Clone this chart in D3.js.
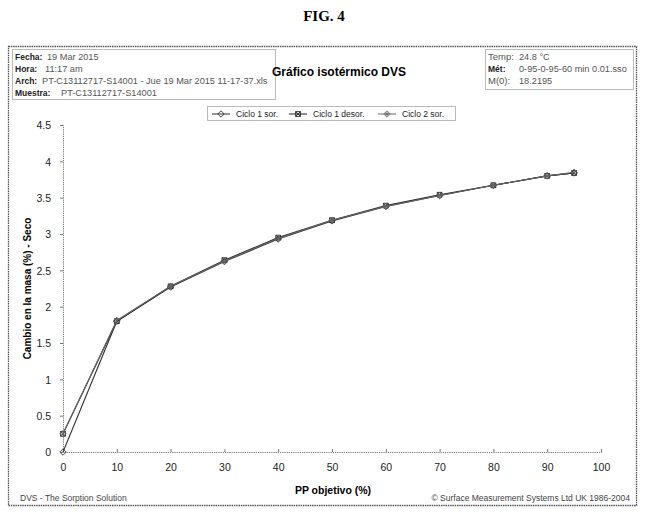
<!doctype html>
<html>
<head>
<meta charset="utf-8">
<script src="https://cdn.jsdelivr.net/npm/d3@7"></script>
<style>
  body { margin: 0; background: #fff; }
  svg { display: block; font-family: Arial, "Liberation Sans", sans-serif; }
</style>
</head>
<body>
<svg id="chart" width="645" height="516"></svg>
<script>
// target RH steps (%)
const ppSor = [0, 10, 20, 30, 40, 50, 60, 70, 80, 90, 95];
const ppDesor = [95, 90, 80, 70, 60, 50, 40, 30, 20, 10, 0];

// mass change (%) - dry
const ciclo1Sor = [0, 1.80, 2.27, 2.62, 2.93, 3.18, 3.38, 3.53, 3.67, 3.80, 3.84];
const ciclo1Desor = [3.84, 3.80, 3.67, 3.54, 3.39, 3.19, 2.95, 2.64, 2.28, 1.80, 0.25];
const ciclo2Sor = [0.25, 1.81, 2.28, 2.63, 2.94, 3.19, 3.38, 3.53, 3.67, 3.80, 3.85];

const xTicks = [0, 10, 20, 30, 40, 50, 60, 70, 80, 90, 100];
const yTicks = [0, 0.5, 1, 1.5, 2, 2.5, 3, 3.5, 4, 4.5];

const seriesNames = ["Ciclo 1 sor.", "Ciclo 1 desor.", "Ciclo 2 sor."];

// header boxes: [label, value, label is bold]
const infoLeft = [
  ["Fecha:", "19 Mar 2015", true],
  ["Hora:", "11:17 am", true],
  ["Arch:", "PT-C13112717-S14001 - Jue 19 Mar 2015 11-17-37.xls", true],
  ["Muestra:", "PT-C13112717-S14001", true]
];
const infoRight = [
  ["Temp:", "24.8 °C", false],
  ["Mét:", "0-95-0-95-60 min 0.01.sso", true],
  ["M(0):", "18.2195", false]
];

const svg = d3.select("#chart");

const x = d3.scaleLinear().domain([0, 100]).range([63, 601]);
const y = d3.scaleLinear().domain([0, 4.5]).range([452, 125]);

// figure caption
svg.append("text")
    .attr("x", 324).attr("y", 21)
    .attr("text-anchor", "middle")
    .style("font-family", "'Liberation Serif', 'DejaVu Serif', serif")
    .style("font-weight", "bold").style("font-size", "15px")
    .text("FIG. 4");

// outer frame
svg.append("rect")
    .attr("x", 8.5).attr("y", 46.5).attr("width", 628).attr("height", 459)
    .attr("fill", "none").attr("stroke", "#555").attr("stroke-width", 1.3)
    .attr("stroke-dasharray", "1.5,0.8");

function infoBox(rows, bx, by, bw, bh, labelW) {
  const g = svg.append("g");
  g.append("rect")
      .attr("x", bx + 0.5).attr("y", by + 0.5).attr("width", bw).attr("height", bh)
      .attr("fill", "#fff").attr("stroke", "#777").attr("stroke-dasharray", "1,1");
  rows.forEach(([k, v, bold], i) => {
    const ty = by + 11 + i * 12;
    g.append("text").attr("x", bx + 3).attr("y", ty)
        .style("font-size", bold ? "8.5px" : "9.5px")
        .style("font-weight", bold ? "bold" : "normal")
        .attr("fill", bold ? "#222" : "#555")
        .text(k);
    g.append("text").attr("x", bx + 3 + labelW[i]).attr("y", ty)
        .style("font-size", "9.2px").attr("fill", "#555")
        .text(v);
  });
}
infoBox(infoLeft, 12, 49, 263, 50, [32, 30, 27, 46]);
infoBox(infoRight, 485, 49, 148, 40, [31, 31, 31]);

// title
svg.append("text")
    .attr("x", 339).attr("y", 76)
    .attr("text-anchor", "middle")
    .style("font-weight", "bold").style("font-size", "12px")
    .text("Gráfico isotérmico DVS");

// axes
const axisColor = "#777";
const xAxis = svg.append("g").attr("transform", `translate(0,${y(0)})`)
    .call(d3.axisBottom(x).tickValues(xTicks).tickSize(-3).tickPadding(12));
const yAxis = svg.append("g").attr("transform", `translate(${x(0)},0)`)
    .call(d3.axisLeft(y).tickValues(yTicks).tickSize(3).tickPadding(9).tickFormat(d3.format("")));
[xAxis, yAxis].forEach(a => {
  a.select(".domain").attr("stroke", axisColor).attr("stroke-dasharray", "1.2,1");
  a.selectAll(".tick line").attr("stroke", axisColor);
  a.selectAll(".tick text").attr("fill", "#222").style("font-size", "10.5px")
      .style("font-family", "Arial, 'Liberation Sans', sans-serif");
});
yAxis.selectAll(".tick text").attr("dy", "0.35em");

// axis titles
svg.append("text")
    .attr("transform", `translate(31,${(y(0) + y(4.5)) / 2}) rotate(-90)`)
    .attr("text-anchor", "middle")
    .style("font-weight", "bold").style("font-size", "10px")
    .text("Cambio en la masa (%) - Seco");
svg.append("text")
    .attr("x", 333).attr("y", 494)
    .attr("text-anchor", "middle")
    .style("font-weight", "bold").style("font-size", "10.5px")
    .text("PP objetivo (%)");

// footer
svg.append("text").attr("x", 20).attr("y", 501)
    .style("font-size", "8.5px").attr("fill", "#444")
    .text("DVS - The Sorption Solution");
svg.append("text").attr("x", 630).attr("y", 501).attr("text-anchor", "end")
    .style("font-size", "8.5px").attr("fill", "#444")
    .text("© Surface Measurement Systems Ltd UK 1986-2004");

// series
const series = [
  {name: seriesNames[0], xs: ppSor, ys: ciclo1Sor, color: "#333", kind: "diamond"},
  {name: seriesNames[1], xs: ppDesor, ys: ciclo1Desor, color: "#222", kind: "xsquare"},
  {name: seriesNames[2], xs: ppSor, ys: ciclo2Sor, color: "#666", kind: "star"}
];

const line = d3.line().x(d => x(d[0])).y(d => y(d[1]));

function marker(g, s, px, py) {
  const m = g.append("g").attr("transform", `translate(${px},${py})`)
      .attr("fill", "none").attr("stroke", s.color).attr("stroke-width", 0.9);
  if (s.kind === "diamond") {
    m.append("path").attr("d", "M0,-3.2L3.2,0L0,3.2L-3.2,0Z");
  } else if (s.kind === "xsquare") {
    m.append("path").attr("d", "M-2.4,-2.4H2.4V2.4H-2.4ZM-2.4,-2.4L2.4,2.4M-2.4,2.4L2.4,-2.4");
  } else {
    m.append("path").attr("d", "M0,-3.2L3.2,0L0,3.2L-3.2,0Z");
    m.append("path").attr("d", d3.symbol(d3.symbolAsterisk, 10)());
  }
}

series.forEach(s => {
  const pts = s.xs.map((v, i) => [v, s.ys[i]]);
  const g = svg.append("g");
  g.append("path").datum(pts)
      .attr("d", line)
      .attr("fill", "none").attr("stroke", s.color).attr("stroke-width", 1.1);
  pts.forEach(p => marker(g, s, x(p[0]), y(p[1])));
});

// legend
const lg = svg.append("g");
lg.append("rect").attr("x", 207.5).attr("y", 106.5).attr("width", 248).attr("height", 14)
    .attr("fill", "#fff").attr("stroke", "#777").attr("stroke-dasharray", "1,1");
const legendX = [212, 289, 378];
series.forEach((s, i) => {
  const lx = legendX[i], ly = 114;
  lg.append("line").attr("x1", lx).attr("x2", lx + 18).attr("y1", ly).attr("y2", ly)
      .attr("stroke", s.color).attr("stroke-width", 1);
  marker(lg, s, lx + 9, ly);
  lg.append("text").attr("x", lx + 24).attr("y", ly + 3)
      .style("font-size", "8.5px").attr("fill", "#222")
      .text(s.name);
});
</script>
</body>
</html>
